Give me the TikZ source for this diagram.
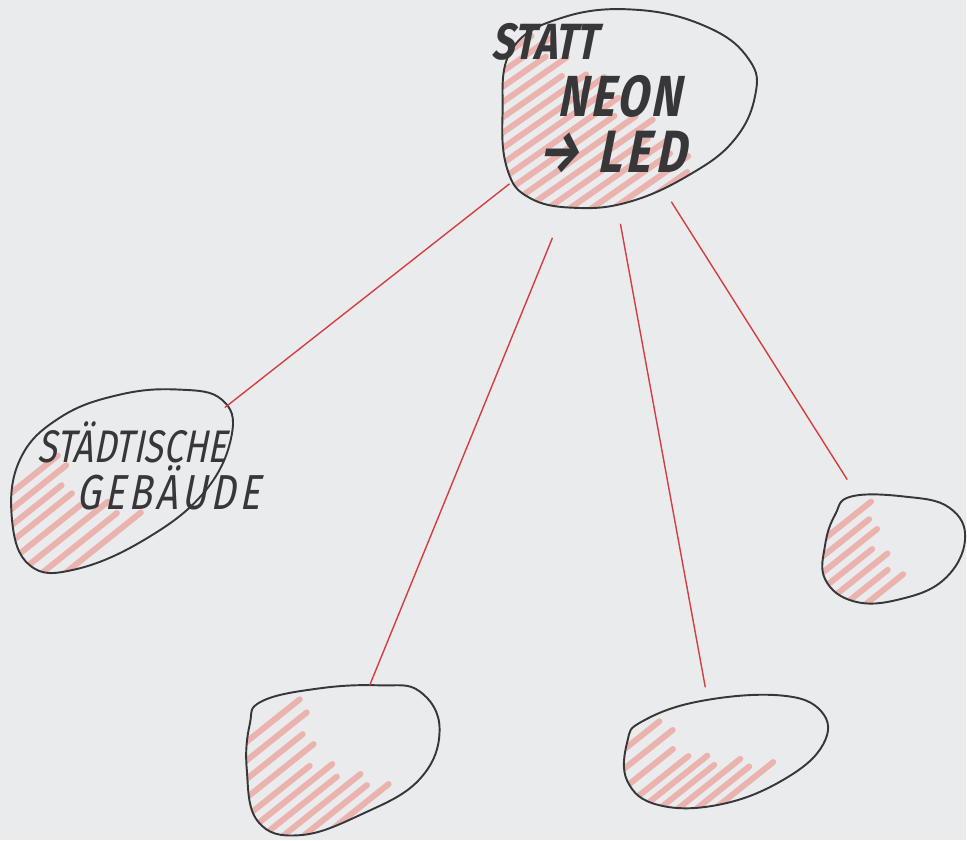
\documentclass[tikz,border=0pt]{standalone}
\usepackage{fontspec}
\usetikzlibrary{calc}
\newfontfamily\handfont[FakeStretch=0.78,FakeSlant=0.2]{Fira Sans}
\definecolor{paper}{RGB}{234,235,237}
\definecolor{pen}{RGB}{55,55,58}
\definecolor{ink}{RGB}{212,62,64}
\definecolor{marker}{RGB}{236,112,96}

% egg outlines (pixel units)
\def\topegg{plot[smooth cycle,tension=0.7] coordinates {(512,50) (565,17) (640,10) (710,28) (750,60) (756,95) (735,140) (690,175) (630,202) (575,208) (530,198) (508,170) (503,115)}}
\def\leftegg{plot[smooth cycle,tension=0.7] coordinates {(60,418) (120,395) (180,390) (222,400) (232,435) (205,492) (145,540) (75,570) (30,566) (12,520) (20,460)}}
\def\botleftegg{plot[smooth cycle,tension=0.7] coordinates {(262,702) (320,689) (380,686) (420,692) (440,730) (420,780) (362,815) (300,836) (258,822) (247,770) (250,725)}}
\def\botmidegg{plot[smooth cycle,tension=0.7] coordinates {(643,722) (700,702) (780,696) (822,712) (824,745) (785,780) (722,805) (660,806) (628,782) (628,742)}}
\def\rightegg{plot[smooth cycle,tension=0.7] coordinates {(852,497) (905,497) (950,508) (966,540) (945,580) (900,600) (855,602) (826,580) (826,545) (836,515)}}

\begin{document}
\begin{tikzpicture}[x=0.02cm,y=-0.02cm,
  blob/.style={draw=pen,line width=1.1pt},
  hatch/.style={draw=marker,line width=3.4pt,opacity=0.45,line cap=round},
  link/.style={draw=ink,line width=0.8pt},
  word/.style={inner sep=0pt,text=pen}]

\fill[paper] (0,0) rectangle (967,841);

% red hatching, strokes end on a ragged line
\begin{scope}
  \clip \topegg;
  \foreach \k/\j in {0/0,1/8,2/-6,3/5,4/-10,5/4,6/12,7/-4,8/6,9/-8,10/3,11/10,12/-5,13/7,14/-3,15/5,16/-6}
    \draw[hatch] ($(532,36)!\k/16!(694,168)+(\j,-0.7*\j)$) -- ++(-250,175);
\end{scope}
\begin{scope}
  \clip \leftegg;
  \foreach \k/\j in {0/0,1/5,2/-3,3/4}
    \draw[hatch] ($(58,456)!\k/3!(68,497)+(\j,-0.8*\j)$) -- ++(-200,160);
  \foreach \k/\j in {1/-4,2/6,3/-2,4/5}
    \draw[hatch] ($(68,497)!\k/4!(136,517)+(\j,-0.8*\j)$) -- ++(-200,160);
\end{scope}
\begin{scope}
  \clip \botleftegg;
  \foreach \k/\j in {0/0,1/4,2/-3,3/5,4/-2}
    \draw[hatch] ($(300,700)!\k/4!(312,765)+(\j,-0.8*\j)$) -- ++(-200,160);
  \foreach \k/\j in {1/6,2/-4,3/5,4/-3,5/4}
    \draw[hatch] ($(312,765)!\k/5!(385,788)+(\j,-0.8*\j)$) -- ++(-200,160);
\end{scope}
\begin{scope}
  \clip \botmidegg;
  \foreach \k/\j in {0/0,1/5,2/-3,3/4}
    \draw[hatch] ($(660,722)!\k/3!(685,760)+(\j,-0.8*\j)$) -- ++(-200,160);
  \foreach \k/\j in {1/6,2/-4,3/5,4/-3,5/4}
    \draw[hatch] ($(685,760)!\k/5!(770,766)+(\j,-0.8*\j)$) -- ++(-200,160);
\end{scope}
\begin{scope}
  \clip \rightegg;
  \foreach \k/\j in {0/0,1/-3,2/4,3/-2}
    \draw[hatch] ($(872,502)!\k/3!(875,548)+(\j,-0.8*\j)$) -- ++(-200,160);
  \foreach \k/\j in {1/5,2/-3,3/4}
    \draw[hatch] ($(875,548)!\k/3!(900,578)+(\j,-0.8*\j)$) -- ++(-200,160);
\end{scope}

% egg outlines
\draw[blob] \topegg;
\draw[blob] \leftegg;
\draw[blob] \botleftegg;
\draw[blob] \botmidegg;
\draw[blob] \rightegg;

% link ends
\coordinate (hub1) at (510,184);
\coordinate (hub2) at (553,238);
\coordinate (hub3) at (621,224);
\coordinate (hub4) at (672,202);
\coordinate (city) at (225,408);
\coordinate (leafA) at (370,686);
\coordinate (leafB) at (706,688);
\coordinate (leafC) at (848,480);

\draw[link] (hub1) -- (city);
\draw[link] (hub2) -- (leafA);
\draw[link] (hub3) -- (leafB);
\draw[link] (hub4) -- (leafC);

% texts
\node[word,font=\handfont\bfseries\fontsize{29}{29}\selectfont] (statt) at (545,42) {STATT};
\node[word,font=\handfont\bfseries\addfontfeature{LetterSpace=5}\fontsize{33}{33}\selectfont] (neon) at (620,97) {NEON};
\node[word,font=\handfont\bfseries\addfontfeature{LetterSpace=8}\fontsize{34}{34}\selectfont] (led) at (612,152) {→\hspace{0.3em}LED};
\node[word,font=\handfont\fontsize{26}{26}\selectfont] (staedt) at (132,443) {STÄDTISCHE};
\node[word,font=\handfont\addfontfeature{LetterSpace=8}\fontsize{28}{28}\selectfont] (gebaeude) at (168,488) {GEBÄUDE};
\end{tikzpicture}
\end{document}
